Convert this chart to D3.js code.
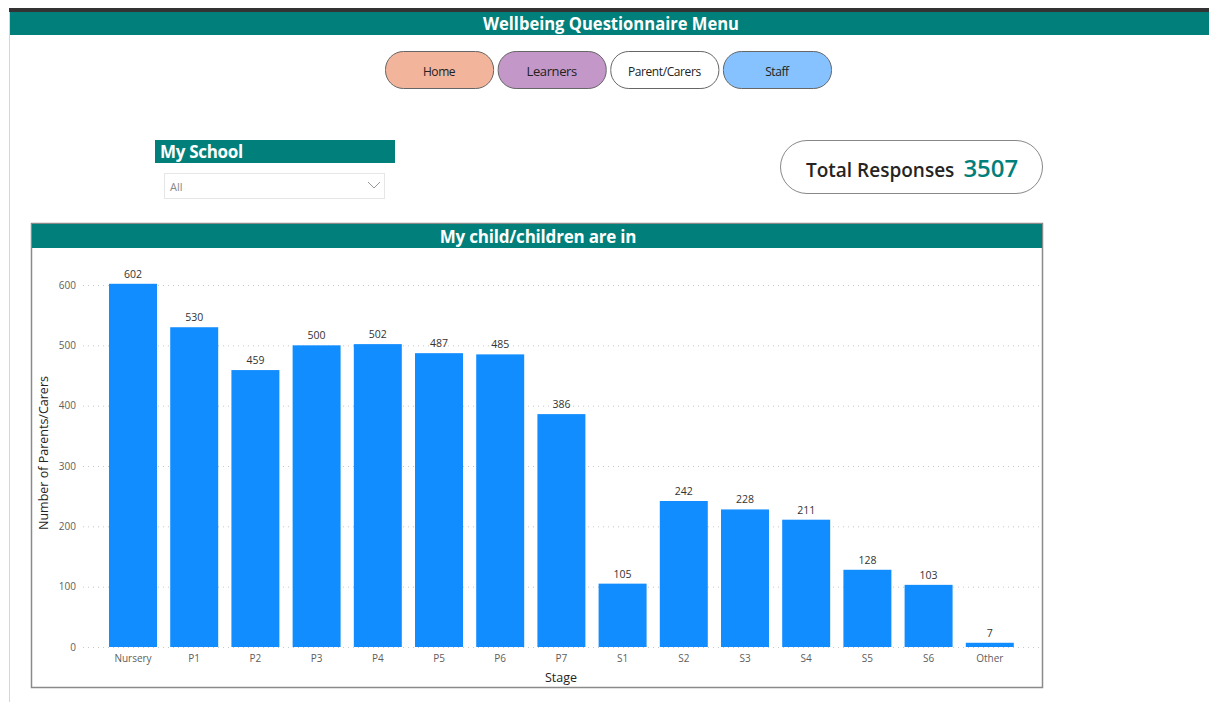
<!DOCTYPE html>
<html><head><meta charset="utf-8">
<script src="https://cdn.jsdelivr.net/npm/d3@7"></script>
<style>
html,body{margin:0;padding:0;background:#fff;}
svg{display:block;}
</style></head>
<body>
<svg id="chart" width="1209" height="702"></svg>
<script>
const categories = ["Nursery","P1","P2","P3","P4","P5","P6","P7","S1","S2","S3","S4","S5","S6","Other"];
const values = [602,530,459,500,502,487,485,386,105,242,228,211,128,103,7];
const yTicks = [0,100,200,300,400,500,600];
const buttons = ["Home","Learners","Parent/Carers","Staff"];
const buttonColors = ["#F2B49B","#C497C9","#FFFFFF","#85C2FF"];
const totalResponses = 3507;

const FONT = "'Open Sans','Noto Sans',sans-serif";
const TEAL = "#017F7B";
const svg = d3.select("#chart").style("font-family", FONT);

// page frame
svg.append("rect").attr("x",9).attr("y",8).attr("width",1200).attr("height",4).attr("fill","#333");
svg.append("line").attr("x1",9.5).attr("x2",9.5).attr("y1",12).attr("y2",702).attr("stroke","#d6d6d6");
svg.append("rect").attr("x",10).attr("y",12).attr("width",1199).attr("height",23).attr("fill",TEAL);
svg.append("text").attr("x",483).attr("y",30)
  .attr("fill","#fff").attr("font-size",17).attr("font-weight",700)
  .attr("textLength",256).attr("lengthAdjust","spacingAndGlyphs")
  .text("Wellbeing Questionnaire Menu");

// nav buttons
const bx = d3.scaleBand().domain(buttons).range([385,831]).paddingInner(0.04);
const bg = svg.append("g");
buttons.forEach((b,i)=>{
  bg.append("rect").attr("x",bx(b)+0.5).attr("y",51.5).attr("width",bx.bandwidth()).attr("height",37)
    .attr("rx",18).attr("fill",buttonColors[i]).attr("stroke","#666").attr("stroke-width",1);
  bg.append("text").attr("x",bx(b)+bx.bandwidth()/2).attr("y",75.5).attr("text-anchor","middle")
    .attr("fill","#222").attr("font-size", b==="Learners"?13:12).attr("letter-spacing","-0.4").text(b);
});

// My School slicer
svg.append("rect").attr("x",155).attr("y",140).attr("width",240).attr("height",23).attr("fill",TEAL);
svg.append("text").attr("x",160).attr("y",158).attr("fill","#fff").attr("font-size",17).attr("font-weight",700)
  .attr("letter-spacing","-0.3").text("My School");
svg.append("rect").attr("x",164.5).attr("y",173.5).attr("width",220).attr("height",25).attr("fill","#fff").attr("stroke","#e6e6e6");
svg.append("text").attr("x",170).attr("y",191).attr("fill","#888").attr("font-size",11).text("All");
svg.append("path").attr("d","M368,182 L374,188 L380,182").attr("fill","none").attr("stroke","#999").attr("stroke-width",1);

// Total responses card
svg.append("rect").attr("x",780.5).attr("y",140.5).attr("width",262).attr("height",53).attr("rx",26.5)
  .attr("fill","#fff").attr("stroke","#888").attr("stroke-width",1);
const tr = svg.append("text").attr("x",806).attr("y",176.5);
tr.append("tspan").attr("fill","#252423").attr("font-size",19).attr("font-weight",600).text("Total Responses");
tr.append("tspan").attr("dx",9).attr("fill",TEAL).attr("font-size",24).attr("font-weight",600).text(totalResponses);

// chart container
svg.append("rect").attr("x",31.5).attr("y",223.5).attr("width",1011).attr("height",464).attr("fill","#fff")
  .attr("stroke","#8a8a8a").attr("stroke-width",1.5);
svg.append("rect").attr("x",32).attr("y",224).attr("width",1010).attr("height",24).attr("fill",TEAL);
svg.append("text").attr("x",538).attr("y",242.5).attr("text-anchor","middle").attr("fill","#fff")
  .attr("font-size",17).attr("font-weight",700).attr("letter-spacing","-0.2").text("My child/children are in");

// scales
const x = d3.scaleBand().domain(categories).range([102.9,1019.9]).paddingInner(0.216).paddingOuter(0.1);
const y = d3.scaleLinear().domain([0,600]).range([647,285]);

// grid
const grid = svg.append("g");
grid.selectAll("line").data(yTicks).join("line")
  .attr("x1",83).attr("x2",1040).attr("y1",d=>y(d)+0.5).attr("y2",d=>y(d)+0.5)
  .attr("stroke","#c8c8c8").attr("stroke-dasharray","1,4").attr("stroke-width",1);

// y axis
const yAxis = svg.append("g").attr("transform","translate(76,0)")
  .call(d3.axisLeft(y).tickValues(yTicks).tickSize(0).tickPadding(0));
yAxis.select(".domain").remove();
yAxis.selectAll("text").attr("fill","#605E5C").attr("font-size",10).attr("font-family",FONT);

// x axis
const xAxis = svg.append("g").attr("transform","translate(0,655)")
  .call(d3.axisBottom(x).tickSize(0).tickPadding(0));
xAxis.select(".domain").remove();
xAxis.selectAll("text").attr("fill","#605E5C").attr("font-size",10).attr("font-family",FONT);

// bars
svg.append("g").selectAll("rect").data(categories).join("rect")
  .attr("x",d=>x(d)).attr("width",x.bandwidth())
  .attr("y",(d,i)=>y(values[i])).attr("height",(d,i)=>y(0)-y(values[i]))
  .attr("fill","#118DFF");

// value labels
svg.append("g").selectAll("text").data(categories).join("text")
  .attr("x",d=>x(d)+x.bandwidth()/2).attr("y",(d,i)=>y(values[i])-6)
  .attr("text-anchor","middle").attr("fill","#333").attr("font-size",10.5)
  .text((d,i)=>values[i]);

// axis titles
svg.append("text").attr("transform","translate(48,453) rotate(-90)").attr("text-anchor","middle")
  .attr("fill","#252423").attr("font-size",12.5).text("Number of Parents/Carers");
svg.append("text").attr("x",561).attr("y",682).attr("text-anchor","middle")
  .attr("fill","#252423").attr("font-size",12.5).text("Stage");
</script>
</body></html>
